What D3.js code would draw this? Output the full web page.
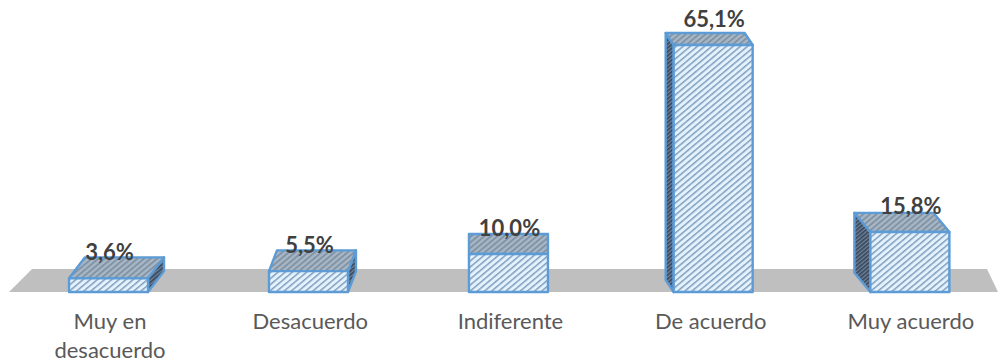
<!DOCTYPE html>
<html><head><meta charset="utf-8"><script src="https://cdn.jsdelivr.net/npm/d3@7"></script>
<style>html,body{margin:0;padding:0;background:#fff}svg{display:block}</style></head>
<body><svg id="c" width="998" height="362"></svg>
<script>
const categories = ["Muy en desacuerdo","Desacuerdo","Indiferente","De acuerdo","Muy acuerdo"];
const values = [3.6,5.5,10.0,65.1,15.8];
const valueLabels = ["3,6%","5,5%","10,0%","65,1%","15,8%"];

const svg = d3.select("#c");
const x = d3.scaleBand().domain(categories).range([9.9,1011]);
const y = d3.scaleLinear().domain([0,65.1]).range([292,45]);
const shiftX = d3.scaleLinear().domain([110,911]).range([16,-16]);
const depthY = d3.scaleLinear().domain([3.6,65.1]).range([21,12]);
const nudge = d3.scaleLinear().domain([0,2,3,4]).range([-1.5,-2,2.5,-1]);
const barW = 79;

const defs = svg.append("defs");
const blur = defs.append("filter").attr("id","soft");
blur.append("feGaussianBlur").attr("stdDeviation",0.45);
function hatch(id,bg,fg,w,size,angle){
  const p = defs.append("pattern").attr("id",id).attr("patternUnits","userSpaceOnUse")
    .attr("width",size).attr("height",size).attr("patternTransform",`rotate(${angle})`);
  p.append("rect").attr("width",size).attr("height",size).attr("fill",bg);
  p.append("rect").attr("width",size).attr("height",w).attr("fill",fg);
}
hatch("front","#e4f2fe","#7f9fbe",1.5,4.6,-40);
hatch("top","#a8b6c3","#7f92a6",1.8,4.2,-40);
hatch("side","#6f8499","#36445a",1.6,3,-40);

const floorPts = [[9,292],[32,269],[987,269],[998,292]];
svg.append("polygon").attr("points",floorPts.join(" ")).attr("fill","#bfbfbf");

const stroke = "#5b9bd5";
const bars = svg.append("g").attr("filter","url(#soft)");
const labels = svg.append("g");
categories.forEach((c,i)=>{
  const s = bars.append("g"), v = values[i];
  const cx0 = x(c)+x.bandwidth()/2, cx = cx0+nudge(i), l = cx-barW/2, r = cx+barW/2;
  const t = y(v), b = y(0), dx = shiftX(cx0), dy = depthY(v);
  const poly = (pts,fill)=>s.append("polygon").attr("points",pts.join(" ")).attr("fill",fill)
    .attr("stroke",stroke).attr("stroke-width",2.4).attr("stroke-linejoin","round");
  if(dx>1) poly([[r,t],[r+dx,t-dy],[r+dx,b-dy],[r,b]],"url(#side)");
  if(dx<-1) poly([[l,t],[l+dx,t-dy],[l+dx,b-dy],[l,b]],"url(#side)");
  poly([[l,t],[l+dx,t-dy],[r+dx,t-dy],[r,t]],"url(#top)");
  poly([[l,t],[r,t],[r,b],[l,b]],"url(#front)");
  labels.append("text").attr("x",cx+1).attr("y",t-18)
    .attr("text-anchor","middle").attr("font-family","Lato, sans-serif").attr("font-weight",700)
    .attr("font-size",22).attr("fill","#404040").text(valueLabels[i]);
});
const axisLabels = svg.append("g").attr("font-family","Lato, sans-serif").attr("font-size",22).attr("fill","#595959").attr("text-anchor","middle");
categories.forEach(c=>{
  const cx = x(c)+x.bandwidth()/2;
  const lines = c==="Muy en desacuerdo" ? ["Muy en","desacuerdo"] : [c];
  lines.forEach((t,k)=>axisLabels.append("text").attr("x",cx).attr("y",329+k*29).text(t));
});
</script></body></html>
